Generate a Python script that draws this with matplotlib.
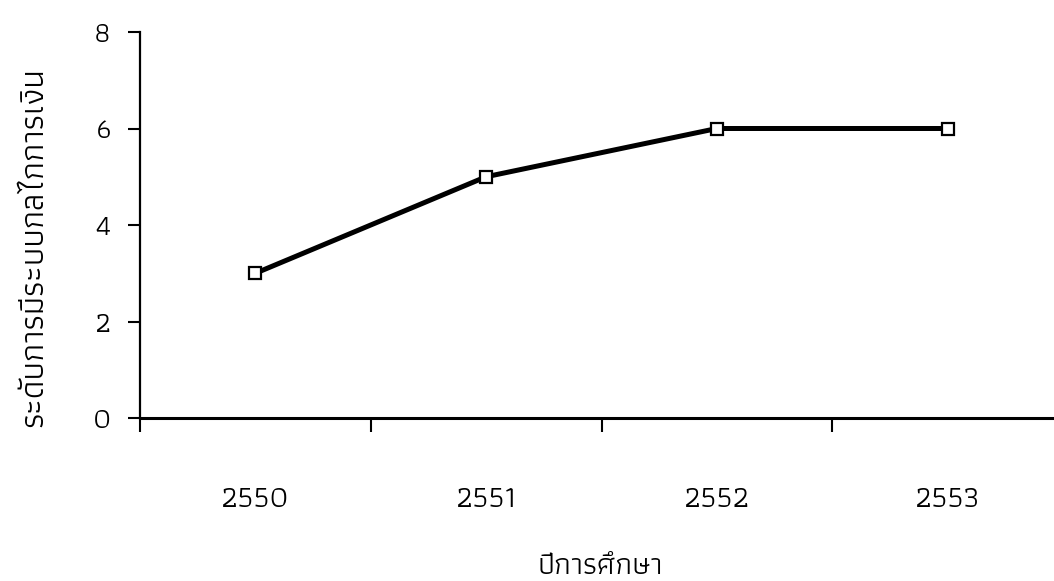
import matplotlib
matplotlib.use('Agg')
import matplotlib.pyplot as plt

# ข้อมูล
years = ['2550', '2551', '2552', '2553']
levels = [3, 5, 6, 6]
y_ticks = [0, 2, 4, 6, 8]

plt.rcParams['font.family'] = ['Athiti', 'DejaVu Sans']

fig = plt.figure(figsize=(10.54, 5.81), dpi=100)
ax = fig.add_axes([140 / 1054, 1 - 418 / 581, 923 / 1054, 386 / 581])

x = list(range(len(years)))
ax.plot(x, levels, color='black', linewidth=3.6, marker='s', markersize=8.5,
        markerfacecolor='white', markeredgecolor='black', markeredgewidth=1.6,
        clip_on=False, zorder=3)

ax.set_xlim(-0.5, len(years) - 0.5)
ax.set_ylim(0, 8)
ax.set_yticks(y_ticks)
ax.set_yticklabels([str(v) for v in y_ticks], fontsize=21)

# ขีดแบ่งระหว่างหมวดหมู่
ax.set_xticks([i - 0.5 for i in range(len(years))])
ax.set_xticklabels([])
ax.set_xticks(x, minor=True)
ax.set_xticklabels(years, minor=True, fontsize=22)
ax.tick_params(axis='x', which='major', direction='out', length=10, width=1.5)
ax.tick_params(axis='x', which='minor', length=0, pad=49)
ax.tick_params(axis='y', direction='out', length=9, width=1.5, pad=12)

for side in ['top', 'right']:
    ax.spines[side].set_visible(False)
ax.spines['left'].set_linewidth(1.6)
ax.spines['bottom'].set_linewidth(2.2)

ax.set_xlabel('ปีการศึกษา', fontsize=22)
ax.xaxis.set_label_coords((600 - 140) / 923, -(566 - 418) / 386)
ax.set_ylabel('ระดับการมีระบบกลไกการเงิน', fontsize=24)
ax.yaxis.set_label_coords(-(140 - 34) / 923, (418 - 247) / 386)
ax.xaxis.label.set_va('center')
ax.yaxis.label.set_va('center')

fig.savefig('out.png')
